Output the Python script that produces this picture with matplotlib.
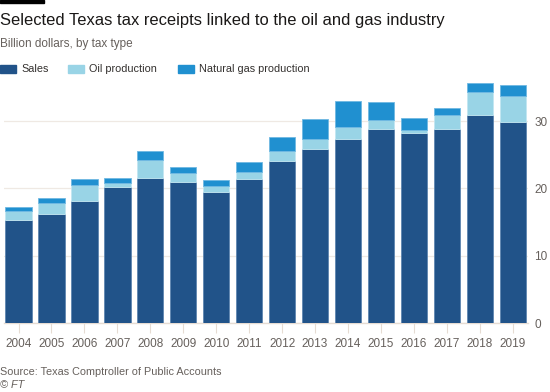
import numpy as np
import matplotlib.pyplot as plt
from matplotlib.patches import Rectangle

plt.rcParams['font.family'] = ['Liberation Sans', 'DejaVu Sans']

# Data (billion dollars)
years = ['2004', '2005', '2006', '2007', '2008', '2009', '2010', '2011',
         '2012', '2013', '2014', '2015', '2016', '2017', '2018', '2019']
sales = [15.3, 16.2, 18.2, 20.2, 21.5, 20.9, 19.5, 21.4,
         24.1, 25.8, 27.3, 28.8, 28.2, 28.8, 30.9, 29.8]
oil = [1.4, 1.6, 2.3, 0.6, 2.7, 1.4, 0.8, 1.1,
       1.5, 1.5, 1.9, 1.3, 0.5, 2.1, 3.4, 3.9]
gas = [0.5, 0.8, 0.9, 0.8, 1.4, 0.9, 1.0, 1.5,
       2.1, 3.0, 3.8, 2.8, 1.7, 1.0, 1.4, 1.7]
yticks = [0, 10, 20, 30]

c_sales = '#215389'
c_oil = '#99d4e6'
c_gas = '#2090d0'
grid_c = '#efe9e3'
text_grey = '#66605c'

fig = plt.figure(figsize=(5.5, 3.92), dpi=100)
ax = fig.add_axes([0.0067, 0.176, 0.9525, 0.618])

x = np.arange(len(years))
sales = np.array(sales)
oil = np.array(oil)
gas = np.array(gas)
w = 0.8
ax.bar(x, sales, w, color=c_sales, edgecolor='#5f86b0', linewidth=0.6, zorder=3)
ax.bar(x, oil, w, bottom=sales, color=c_oil, edgecolor='#c2e6f1', linewidth=0.6, zorder=3)
ax.bar(x, gas, w, bottom=sales + oil, color=c_gas, edgecolor='#6fb8e2', linewidth=0.6, zorder=3)

ax.set_xlim(-0.45, len(years) - 0.55)
ax.set_ylim(0, 36)
ax.set_yticks(yticks)
ax.yaxis.tick_right()
ax.set_xticks(x)
ax.set_xticklabels(years)
ax.grid(axis='y', color=grid_c, linewidth=0.9, zorder=0)
for s in ['top', 'right', 'left']:
    ax.spines[s].set_visible(False)
ax.spines['bottom'].set_color('#e6dcd3')
ax.spines['bottom'].set_linewidth(1.0)
ax.tick_params(axis='x', length=7, color='#e6dcd3', labelsize=8.5,
               labelcolor=text_grey, pad=4)
ax.tick_params(axis='y', length=0, labelsize=8.5, labelcolor=text_grey, pad=5)

# header
fig.patches.append(Rectangle((0, 1 - 3 / 392), 44 / 550, 3 / 392,
                             transform=fig.transFigure, color='black'))
fig.text(0.0, 1 - 21 / 392, 'Selected Texas tax receipts linked to the oil and gas industry',
         fontsize=11.9, color='#1a1817', va='center', ha='left')
fig.text(0.0, 1 - 44 / 392, 'Billion dollars, by tax type',
         fontsize=8.5, color=text_grey, va='center', ha='left')

# legend
leg = [(0, 'Sales', c_sales), (68, 'Oil production', c_oil),
       (178, 'Natural gas production', c_gas)]
for px, lab, col in leg:
    fig.patches.append(Rectangle((px / 550, 1 - 72.5 / 392), 16 / 550, 7 / 392,
                                 transform=fig.transFigure, color=col))
    fig.text((px + 21) / 550, 1 - 69 / 392, lab, fontsize=7.8, color='#33302e',
             va='center', ha='left')

fig.text(0.0, 1 - 372 / 392, 'Source: Texas Comptroller of Public Accounts',
         fontsize=7.8, color=text_grey, va='center', ha='left')
fig.text(0.0, 1 - 385 / 392, '© FT', fontsize=7.8, color=text_grey,
         style='italic', va='center', ha='left')

fig.savefig('out.png', dpi=100)
